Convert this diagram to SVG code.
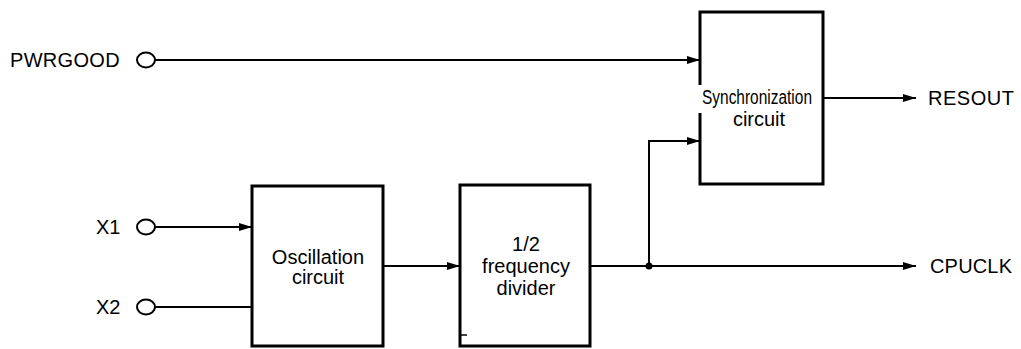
<svg xmlns="http://www.w3.org/2000/svg" width="1021" height="349" viewBox="0 0 1021 349">
  <defs>
    <marker id="ah" markerWidth="13" markerHeight="8" refX="13" refY="4" orient="auto" markerUnits="userSpaceOnUse">
      <path d="M0,0 L13,4 L0,8 z" fill="#000"/>
    </marker>
    <style>
      text { font-family: "Liberation Sans", Arial, sans-serif; font-size: 20px; fill: #000; }
      .c { text-anchor: middle; }
      .box { fill: none; stroke: #000; stroke-width: 3; }
      .wire { fill: none; stroke: #000; stroke-width: 2; }
      .pin { fill: #fff; stroke: #000; stroke-width: 2; }
    </style>
  </defs>
  <rect width="1021" height="349" fill="#fff"/>

  <g id="connectors">
    <line class="wire" x1="155" y1="60" x2="700" y2="60" marker-end="url(#ah)"/>
    <line class="wire" x1="823" y1="98" x2="916" y2="98" marker-end="url(#ah)"/>
    <line class="wire" x1="155" y1="227" x2="252" y2="227" marker-end="url(#ah)"/>
    <line class="wire" x1="155" y1="307" x2="252" y2="307"/>
    <line class="wire" x1="383" y1="266" x2="460" y2="266" marker-end="url(#ah)"/>
    <line class="wire" x1="590" y1="266" x2="916" y2="266" marker-end="url(#ah)"/>
    <polyline class="wire" points="649,266 649,141 700,141" marker-end="url(#ah)"/>
    <circle cx="649" cy="266" r="3.5" fill="#000"/>
  </g>

  <g id="pwrgood">
    <text x="10" y="67" style="letter-spacing:0.3px">PWRGOOD</text>
    <ellipse class="pin" cx="146" cy="60" rx="9" ry="7.5"/>
  </g>
  <g id="x1">
    <text x="96" y="234">X1</text>
    <ellipse class="pin" cx="146" cy="227" rx="9" ry="7.5"/>
  </g>
  <g id="x2">
    <text x="96" y="314">X2</text>
    <ellipse class="pin" cx="146" cy="307" rx="9" ry="7.5"/>
  </g>

  <g id="sync">
    <path class="box" d="M700,85 V12 H823 V184 H700 V113"/>
    <text class="c" x="757" y="104" textLength="110" lengthAdjust="spacingAndGlyphs">Synchronization</text>
    <text class="c" x="759" y="126">circuit</text>
  </g>

  <g id="osc">
    <rect class="box" x="252" y="186" width="131" height="160"/>
    <text class="c" x="318" y="264">Oscillation</text>
    <text class="c" x="318" y="284">circuit</text>
  </g>

  <g id="divider">
    <rect class="box" x="460" y="185" width="130" height="161"/>
    <line x1="461" y1="335" x2="467" y2="335" stroke="#000" stroke-width="1.5"/>
    <text class="c" x="526" y="251">1/2</text>
    <text class="c" x="526" y="273">frequency</text>
    <text class="c" x="526" y="295">divider</text>
  </g>

  <g id="resout">
    <text x="928" y="105" textLength="86" lengthAdjust="spacing">RESOUT</text>
  </g>
  <g id="cpuclk">
    <text x="930" y="273" textLength="82" lengthAdjust="spacing">CPUCLK</text>
  </g>
</svg>
